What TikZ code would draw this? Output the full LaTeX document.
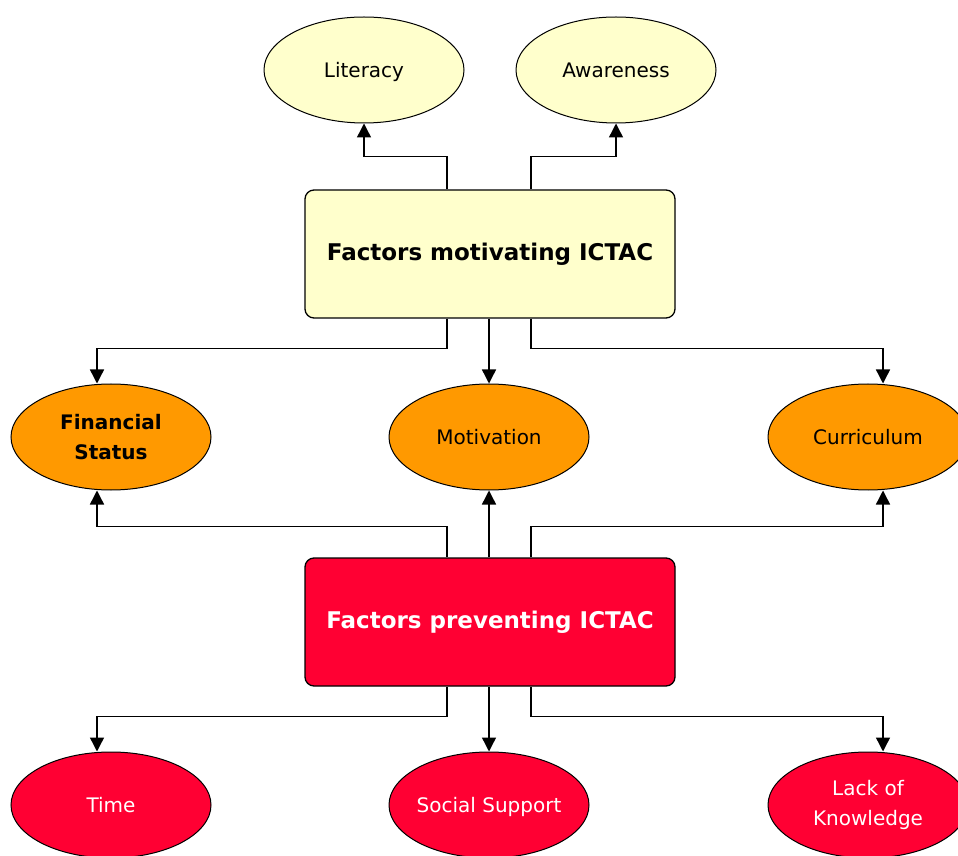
\documentclass[tikz,border=0pt]{standalone}
\usepackage{fontspec}
\setmainfont{DejaVu Sans}
\usetikzlibrary{arrows.meta,shapes.geometric}
\definecolor{paleyellow}{RGB}{255,255,204}
\definecolor{mainorange}{RGB}{255,153,0}
\definecolor{mainred}{RGB}{255,0,51}
\begin{document}
\begin{tikzpicture}[x=1pt,y=1pt,
  font=\fontsize{20}{30}\selectfont,
  factor/.style={draw,rounded corners=9pt,minimum width=370pt,minimum height=128pt,
    line width=1.3pt,font=\fontsize{23}{28}\selectfont\bfseries},
  item/.style={draw,ellipse,minimum width=200pt,minimum height=106pt,line width=1pt,
    align=center,inner sep=0pt,inner xsep=-6pt,text height=15pt,text depth=0pt},
  twoline/.style={text height=,text depth=},
  arr/.style={-{Triangle[length=14pt,width=14pt]},line width=1.4pt},
  every node/.style={align=center}]

\useasboundingbox (0,0) rectangle (958,855);
\clip (0,0) rectangle (958,855);

% top row
\node[item,fill=paleyellow] (lit) at (364,785) {Literacy};
\node[item,fill=paleyellow] (aware) at (616,785) {Awareness};

% the two factor boxes
\node[factor,fill=paleyellow] (motiv) at (490,601) {Factors motivating ICTAC};
\node[factor,fill=mainred,text=white] (prev) at (490,233) {Factors preventing ICTAC};

% middle row
\node[item,twoline,fill=mainorange,font=\fontsize{20}{30}\selectfont\bfseries] (fin) at (111,418) {Financial\\Status};
\node[item,fill=mainorange] (motivation) at (489,418) {Motivation};
\node[item,fill=mainorange] (curr) at (868,418) {Curriculum};

% bottom row
\node[item,fill=mainred,text=white] (time) at (111,50) {Time};
\node[item,fill=mainred,text=white] (social) at (489,50) {Social Support};
\node[item,twoline,fill=mainred,text=white] (lack) at (868,50) {Lack of\\Knowledge};

%motivating factors
\draw[arr] ([xshift=-43pt]motiv.north) -- ++(0,33) -| (lit.south);
\draw[arr] ([xshift=41pt]motiv.north) -- ++(0,33) -| (aware.south);
\draw[arr] ([xshift=-43pt]motiv.south) -- ++(0,-30) -| ([xshift=-14pt]fin.north);
\draw[arr] (motiv.south -| motivation.north) -- (motivation.north);
\draw[arr] ([xshift=41pt]motiv.south) -- ++(0,-30) -| ([xshift=15pt]curr.north);

%preventing factors
\draw[arr] ([xshift=-43pt]prev.north) -- ++(0,31) -| ([xshift=-14pt]fin.south);
\draw[arr] (prev.north -| motivation.south) -- (motivation.south);
\draw[arr] ([xshift=41pt]prev.north) -- ++(0,31) -| ([xshift=15pt]curr.south);
\draw[arr] ([xshift=-43pt]prev.south) -- ++(0,-30) -| ([xshift=-14pt]time.north);
\draw[arr] (prev.south -| social.north) -- (social.north);
\draw[arr] ([xshift=41pt]prev.south) -- ++(0,-30) -| ([xshift=15pt]lack.north);

\end{tikzpicture}
\end{document}
